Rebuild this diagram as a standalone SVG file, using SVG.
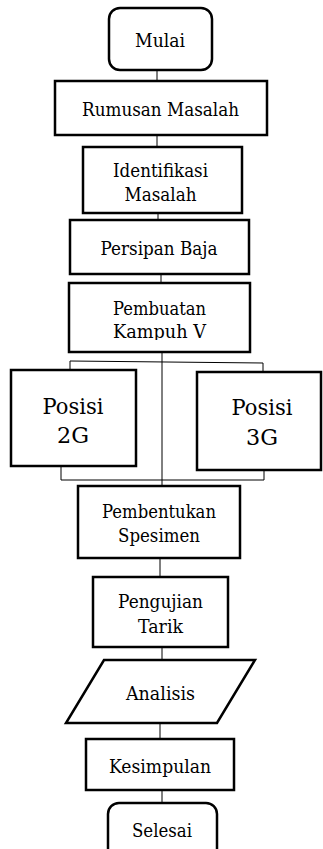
<svg xmlns="http://www.w3.org/2000/svg" width="323" height="849" viewBox="0 0 323 849">
  <style>
    .box { fill: #ffffff; stroke: #000000; stroke-width: 2.5; }
    .line { fill: none; stroke: #000000; stroke-width: 1; }
    text { font-family: "DejaVu Serif", "Liberation Serif", serif; font-size: 19px; fill: #000000; text-anchor: middle; }
    .big { font-size: 23px; }
  </style>
  <defs>
    <clipPath id="kampuhClip">
      <rect x="69" y="283" width="181" height="57"/>
    </clipPath>
  </defs>

  <!-- connectors -->
  <g id="connectors">
    <line class="line" x1="157" y1="70" x2="157" y2="81"/>
    <line class="line" x1="157" y1="135" x2="157" y2="147"/>
    <line class="line" x1="158" y1="213" x2="158" y2="220"/>
    <line class="line" x1="161" y1="274" x2="161" y2="283"/>
    <line class="line" x1="162" y1="352" x2="162" y2="486"/>
    <polyline class="line" points="70,370 70,361 263,363 263,372"/>
    <polyline class="line" points="61,466 61,480 264,480 264,470"/>
    <line class="line" x1="160" y1="558" x2="160" y2="577"/>
    <line class="line" x1="162" y1="647" x2="162" y2="660"/>
    <line class="line" x1="160" y1="723" x2="160" y2="739"/>
    <line class="line" x1="162" y1="790" x2="162" y2="803"/>
  </g>

  <g id="mulai">
    <rect class="box" x="109" y="8" width="103" height="62" rx="11"/>
    <text x="160" y="47" textLength="50" lengthAdjust="spacingAndGlyphs">Mulai</text>
  </g>

  <g id="rumusan-masalah">
    <rect class="box" x="55" y="81" width="212" height="54"/>
    <text x="160.5" y="116" textLength="157" lengthAdjust="spacingAndGlyphs">Rumusan Masalah</text>
  </g>

  <g id="identifikasi-masalah">
    <rect class="box" x="83" y="147" width="159" height="66"/>
    <text x="160.5" y="177" textLength="95" lengthAdjust="spacingAndGlyphs">Identifikasi</text>
    <text x="160.5" y="201" textLength="72" lengthAdjust="spacingAndGlyphs">Masalah</text>
  </g>

  <g id="persipan-baja">
    <rect class="box" x="70" y="220" width="179" height="54"/>
    <text x="159" y="255" textLength="117" lengthAdjust="spacingAndGlyphs">Persipan Baja</text>
  </g>

  <g id="pembuatan-kampuh">
    <rect class="box" x="69" y="283" width="181" height="69"/>
    <g clip-path="url(#kampuhClip)">
      <text x="159.5" y="315" textLength="93" lengthAdjust="spacingAndGlyphs">Pembuatan</text>
      <text x="159.5" y="338" textLength="93" lengthAdjust="spacingAndGlyphs">Kampuh V</text>
    </g>
  </g>

  <g id="posisi-2g">
    <rect class="box" x="11" y="370" width="125" height="96"/>
    <text class="big" x="73" y="414" textLength="61" lengthAdjust="spacingAndGlyphs">Posisi</text>
    <text class="big" x="73" y="443" textLength="32" lengthAdjust="spacingAndGlyphs">2G</text>
  </g>

  <g id="posisi-3g">
    <rect class="box" x="197" y="372" width="124" height="98"/>
    <text class="big" x="262" y="415" textLength="61" lengthAdjust="spacingAndGlyphs">Posisi</text>
    <text class="big" x="262" y="445" textLength="32" lengthAdjust="spacingAndGlyphs">3G</text>
  </g>

  <g id="pembentukan-spesimen">
    <rect class="box" x="78" y="486" width="162" height="72"/>
    <text x="159" y="518" textLength="114" lengthAdjust="spacingAndGlyphs">Pembentukan</text>
    <text x="159" y="542" textLength="82" lengthAdjust="spacingAndGlyphs">Spesimen</text>
  </g>

  <g id="pengujian-tarik">
    <rect class="box" x="93" y="577" width="135" height="70"/>
    <text x="160.5" y="608" textLength="85" lengthAdjust="spacingAndGlyphs">Pengujian</text>
    <text x="160.5" y="633" textLength="45" lengthAdjust="spacingAndGlyphs">Tarik</text>
  </g>

  <g id="analisis">
    <polygon class="box" points="104,660 255,660 217,723 66,723"/>
    <text x="160.5" y="700" textLength="69" lengthAdjust="spacingAndGlyphs">Analisis</text>
  </g>

  <g id="kesimpulan">
    <rect class="box" x="86" y="739" width="148" height="51"/>
    <text x="160" y="773" textLength="102" lengthAdjust="spacingAndGlyphs">Kesimpulan</text>
  </g>

  <g id="selesai">
    <rect class="box" x="108" y="803" width="109" height="60" rx="11"/>
    <text x="162" y="837" textLength="60" lengthAdjust="spacingAndGlyphs">Selesai</text>
  </g>
</svg>
